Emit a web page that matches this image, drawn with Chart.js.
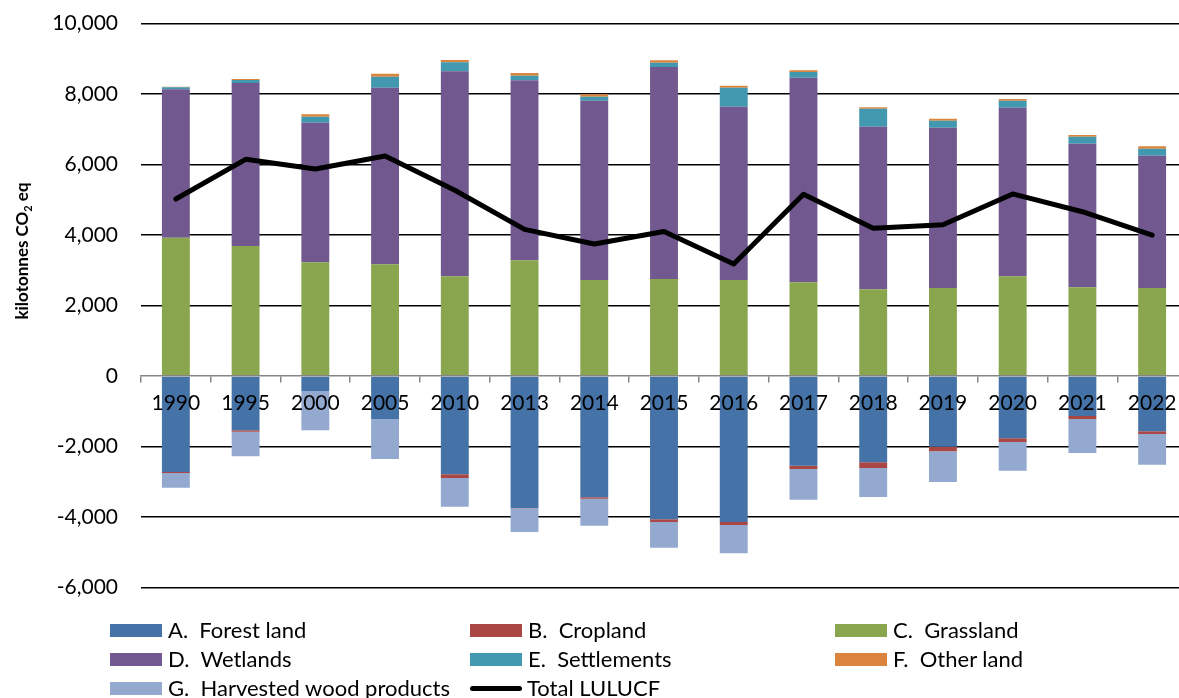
<!DOCTYPE html>
<html>
<head>
<meta charset="utf-8">
<script src="https://cdn.jsdelivr.net/npm/chart.js@4.4.1/dist/chart.umd.min.js"></script>
<style>
  html, body { margin: 0; padding: 0; background: #fff; overflow: hidden; }
  #wrap { position: relative; width: 1190px; height: 698px; }
  #chart { position: absolute; left: 0; top: 0; }
  .leg { position: absolute; display: flex; align-items: center; font-family: Lato, "Open Sans", sans-serif;
         font-size: 22px; color: #000; white-space: pre; line-height: 1; }
  .sw { width: 52px; height: 13px; margin-right: 6px; flex: none; }
  .ln { width: 52px; height: 5px; border-radius: 3px; background: #000; margin-right: 5px; flex: none; }
</style>
</head>
<body>
<div id="wrap">
  <canvas id="chart" width="1190" height="698"></canvas>
</div>
<script>
// Inventory years and LULUCF sub-sector emissions/removals (kt CO2 eq)
const years = ['1990','1995','2000','2005','2010','2013','2014','2015','2016','2017','2018','2019','2020','2021','2022'];
const forestLand   = [-2724,-1541,-426,-1220,-2790,-3745,-3442,-4066,-4142,-2544,-2449,-2005,-1768,-1135,-1570];
const cropland     = [-30,-40,0,30,-104,-10,-38,-76,-85,-94,-161,-132,-104,-85,-75];
const grassland    = [3924,3688,3225,3138,2827,3281,2724,2752,2724,2657,2459,2497,2827,2516,2497];
const wetlands     = [4209,4624,3962,5012,5817,5108,5087,6014,4916,5806,4614,4548,4785,4074,3753];
const settlements  = [57,85,170,311,255,131,113,123,540,161,511,198,199,199,199];
const otherLand    = [15,29,67,85,66,77,67,67,56,48,38,57,47,48,67];
const harvestedWood= [-414,-698,-1115,-1135,-813,-672,-767,-729,-803,-871,-823,-870,-814,-964,-870];
const totalLULUCF  = [5020,6147,5873,6240,5270,4160,3745,4100,3180,5155,4190,4290,5165,4660,3995];

const yTicks = [-6000,-4000,-2000,0,2000,4000,6000,8000,10000];

const seriesLabels = ['A.  Forest land','B.  Cropland','C.  Grassland','D.  Wetlands','E.  Settlements','F.  Other land','G.  Harvested wood products'];
const seriesValues = [forestLand, cropland, grassland, wetlands, settlements, otherLand, harvestedWood];
const seriesColors = ['#4572A7','#AA4643','#89A54E','#71588F','#4198AF','#DB843D','#93A9CF'];
const totalLabel = 'Total LULUCF';

const FONT = 'Lato, "Open Sans", sans-serif';

const datasets = seriesValues.map((vals, i) => ({
  type: 'bar',
  label: seriesLabels[i],
  data: vals,
  backgroundColor: seriesColors[i],
  borderWidth: 0,
  stack: 'sectors',
  order: 1,
  barPercentage: 0.4,
  categoryPercentage: 1.0
}));
datasets.push({
  type: 'line',
  label: totalLabel,
  data: totalLULUCF,
  borderColor: '#000',
  backgroundColor: '#000',
  borderWidth: 5,
  pointRadius: 0,
  tension: 0,
  borderCapStyle: 'round',
  borderJoinStyle: 'round',
  stack: 'total',
  order: 0
});

// Rotated y-axis title with a subscript "2"
const axisTitle = {
  id: 'axisTitle',
  afterDraw(chart) {
    const ctx = chart.ctx;
    ctx.save();
    ctx.translate(23, 251);
    ctx.rotate(-Math.PI / 2);
    ctx.fillStyle = '#000';
    ctx.textBaseline = 'middle';
    const main = 'bold 17px ' + FONT;
    const sub = 'bold 11px ' + FONT;
    const parts = [['kilotonnes CO', main, 0], ['2', sub, 5], [' eq', main, 0]];
    let w = 0;
    parts.forEach(p => { ctx.font = p[1]; w += ctx.measureText(p[0]).width; });
    let x = -w / 2;
    parts.forEach(p => {
      ctx.font = p[1];
      ctx.fillText(p[0], x, p[2]);
      x += ctx.measureText(p[0]).width;
    });
    ctx.restore();
  }
};

const chart = new Chart(document.getElementById('chart'), {
  data: { labels: years, datasets },
  options: {
    responsive: false,
    animation: false,
    devicePixelRatio: 1,
    layout: { padding: { left: 0, right: 3, top: 23.5, bottom: 110.5 } },
    plugins: { legend: { display: false }, tooltip: { enabled: false } },
    scales: {
      x: {
        type: 'category',
        position: { y: 0 },
        stacked: true,
        offset: true,
        afterFit(scale) { scale.height = 0; },
        grid: {
          display: true,
          offset: true,
          drawOnChartArea: false,
          drawTicks: true,
          tickLength: 6,
          color: '#868686',
          lineWidth: 1.5,
          z: 1
        },
        border: { display: true, color: '#868686', width: 1.5, z: 1 },
        ticks: { color: '#000', font: { family: FONT, size: 21 }, padding: 9, maxRotation: 0, autoSkip: false, z: 1 }
      },
      y: {
        stacked: true,
        min: -6000,
        max: 10000,
        afterBuildTicks(scale) { scale.ticks = yTicks.map(v => ({ value: v })); },
        afterFit(scale) { scale.width = 141; },
        grid: {
          drawTicks: true,
          tickLength: 23,
          tickColor: 'rgba(0,0,0,0)',
          color: c => (c.tick && c.tick.value === 0) ? 'rgba(0,0,0,0)' : '#000',
          lineWidth: 1.4
        },
        border: { display: false },
        ticks: {
          color: '#000',
          padding: 0,
          font: { family: FONT, size: 21 },
          callback: v => v.toLocaleString('en-US')
        }
      }
    }
  },
  plugins: [axisTitle]
});

// Three-column legend built from the dataset labels and colours
const legendCols = [110, 470, 835];
const legendRows = [630, 659, 688];
const wrap = document.getElementById('wrap');
const legendItems = seriesLabels.map((l, i) => ({ label: l, color: seriesColors[i], line: false }));
legendItems.push({ label: totalLabel, color: '#000', line: true });
legendItems.forEach((it, i) => {
  const el = document.createElement('div');
  el.className = 'leg';
  el.style.left = legendCols[i % 3] + 'px';
  el.style.top = (legendRows[Math.floor(i / 3)] - 11) + 'px';
  el.style.height = '22px';
  const mark = document.createElement('span');
  mark.className = it.line ? 'ln' : 'sw';
  if (!it.line) mark.style.background = it.color;
  const txt = document.createElement('span');
  txt.textContent = it.label;
  el.appendChild(mark);
  el.appendChild(txt);
  wrap.appendChild(el);
});
</script>
</body>
</html>
